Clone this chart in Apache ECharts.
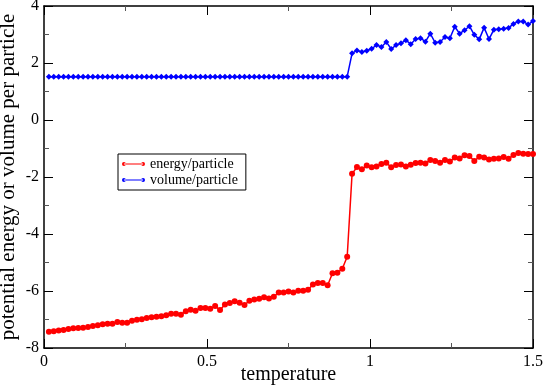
<!DOCTYPE html>
<html>
<head>
<meta charset="utf-8">
<script src="https://cdn.jsdelivr.net/npm/echarts@6/dist/echarts.min.js"></script>
<style>
html, body { margin: 0; padding: 0; background: #fff; }
#chart { width: 545px; height: 389px; }
</style>
</head>
<body>
<div id="chart"></div>
<script>
// temperatures (x)
var temperature = [
	0.015,0.03,0.045,0.06,0.075,0.09,0.105,0.12,0.135,0.15,
	0.165,0.18,0.195,0.21,0.225,0.24,0.255,0.27,0.285,0.3,
	0.315,0.33,0.345,0.36,0.375,0.39,0.405,0.42,0.435,0.45,
	0.465,0.48,0.495,0.51,0.525,0.54,0.555,0.57,0.585,0.6,
	0.615,0.63,0.645,0.66,0.675,0.69,0.705,0.72,0.735,0.75,
	0.765,0.78,0.795,0.81,0.825,0.84,0.855,0.87,0.885,0.9,
	0.915,0.93,0.945,0.96,0.975,0.99,1.005,1.02,1.035,1.05,
	1.065,1.08,1.095,1.11,1.125,1.14,1.155,1.17,1.185,1.2,
	1.215,1.23,1.245,1.26,1.275,1.29,1.305,1.32,1.335,1.35,
	1.365,1.38,1.395,1.41,1.425,1.44,1.455,1.47,1.485,1.5
];

var energy = [
	-7.43,-7.41,-7.39,
	-7.37,-7.33,-7.31,-7.30,-7.29,-7.26,-7.23,-7.20,-7.17,-7.15,
	-7.15,-7.09,-7.11,-7.11,-7.04,-7.01,-6.99,-6.95,-6.92,-6.90,
	-6.89,-6.85,-6.80,-6.80,-6.83,-6.71,-6.66,-6.69,-6.60,-6.60,
	-6.62,-6.53,-6.67,-6.47,-6.42,-6.36,-6.41,-6.49,-6.34,-6.30,
	-6.27,-6.22,-6.26,-6.20,-6.05,-6.05,-6.02,-6.05,-5.99,-5.99,
	-5.96,-5.77,-5.72,-5.72,-5.80,-5.38,-5.36,-5.22,-4.80,
	-1.89,-1.65,-1.73,-1.60,-1.66,-1.63,-1.54,-1.50,-1.66,-1.58,
	-1.56,-1.63,-1.57,-1.51,-1.50,-1.53,-1.40,-1.44,-1.50,-1.40,
	-1.46,-1.32,-1.35,-1.24,-1.26,-1.44,-1.29,-1.32,-1.39,-1.36,
	-1.35,-1.30,-1.36,-1.23,-1.16,-1.18,-1.19,-1.19
];

var volume = [
	1.52,1.52,1.52,1.52,1.52,1.52,1.52,1.52,1.52,1.52,
	1.52,1.52,1.52,1.52,1.52,1.52,1.52,1.52,1.52,1.52,
	1.52,1.52,1.52,1.52,1.52,1.52,1.52,1.52,1.52,1.52,
	1.52,1.52,1.52,1.52,1.52,1.52,1.52,1.52,1.52,1.52,
	1.52,1.52,1.52,1.52,1.52,1.52,1.52,1.52,1.52,1.52,
	1.52,1.52,1.52,1.52,1.52,1.52,1.52,1.52,1.52,1.52,
	1.52,1.52,
	2.34,2.44,2.39,2.43,2.50,2.63,2.56,2.74,2.49,2.63,
	2.69,2.80,2.66,2.84,2.87,2.75,3.03,2.71,2.74,2.91,
	2.87,3.27,3.03,3.15,3.29,2.99,2.83,3.24,2.84,3.17,
	3.18,3.20,3.23,3.37,3.46,3.46,3.35,3.47
];

var names = ['energy/particle', 'volume/particle'];
var colors = ['#ff0000', '#0000ff'];

function pairs(xs, ys) {
	var out = [];
	for (var i = 0; i < xs.length; i++) out.push([xs[i], ys[i]]);
	return out;
}

var serif = 'Liberation Serif';
// legend icon: short line with a dot at each end
var legendIcon = 'path://M0,4a4,4 0 1,0 8,0a4,4 0 1,0 -8,0Z M40,4a4,4 0 1,0 8,0a4,4 0 1,0 -8,0Z M4,3L44,3L44,5L4,5Z';

function mirrorAxis(extra) {
	var a = {
		type: 'value',
		axisLine: { show: true, onZero: false, lineStyle: { color: '#000', width: 1.5 } },
		axisTick: { show: true, inside: true, length: 9, lineStyle: { color: '#000' } },
		minorTick: { show: true, splitNumber: 2, length: 5, lineStyle: { color: '#555' } },
		axisLabel: { show: false },
		splitLine: { show: false }
	};
	for (var k in extra) a[k] = extra[k];
	return a;
}

var chart = echarts.init(document.getElementById('chart'));

var option = {
	animation: false,
	backgroundColor: '#fff',
	color: colors,
	grid: { left: 44, right: 12, top: 6, bottom: 41, containLabel: false, outerBoundsMode: 'none' },
	legend: {
		orient: 'vertical',
		left: 118,
		top: 154,
		data: names,
		icon: legendIcon,
		itemWidth: 23,
		itemHeight: 6,
		itemGap: 2,
		padding: [3, 8, 3, 4],
		borderColor: '#000',
		borderWidth: 1,
		textStyle: { fontFamily: serif, fontSize: 14, color: '#000', padding: [0, 0, 0, 0] }
	},
	xAxis: [
		mirrorAxis({
			min: 0, max: 1.5, interval: 0.5, position: 'bottom',
			name: 'temperature', nameLocation: 'middle', nameGap: 17, nameMoveOverlap: false,
			nameTextStyle: { fontFamily: serif, fontSize: 20, color: '#000' },
			axisLabel: { show: true, fontFamily: serif, fontSize: 16, color: '#000', margin: 6 }
		}),
		mirrorAxis({ min: 0, max: 1.5, interval: 0.5, position: 'top' })
	],
	yAxis: [
		mirrorAxis({
			min: -8, max: 4, interval: 2, position: 'left',
			name: 'potential energy or volume per particle', nameLocation: 'middle', nameGap: 25, nameMoveOverlap: false,
			nameTextStyle: { fontFamily: serif, fontSize: 21, color: '#000' },
			axisLabel: { show: true, fontFamily: serif, fontSize: 16, color: '#000', margin: 5 }
		}),
		mirrorAxis({ min: -8, max: 4, interval: 2, position: 'right' })
	],
	series: [
		{
			name: names[0], type: 'line', data: pairs(temperature, energy),
			symbol: 'circle', symbolSize: 6,
			lineStyle: { width: 1.5 }
		},
		{
			name: names[1], type: 'line', data: pairs(temperature, volume),
			symbol: 'diamond', symbolSize: 6,
			lineStyle: { width: 1.5 }
		}
	]
};

chart.setOption(option);
</script>
</body>
</html>
